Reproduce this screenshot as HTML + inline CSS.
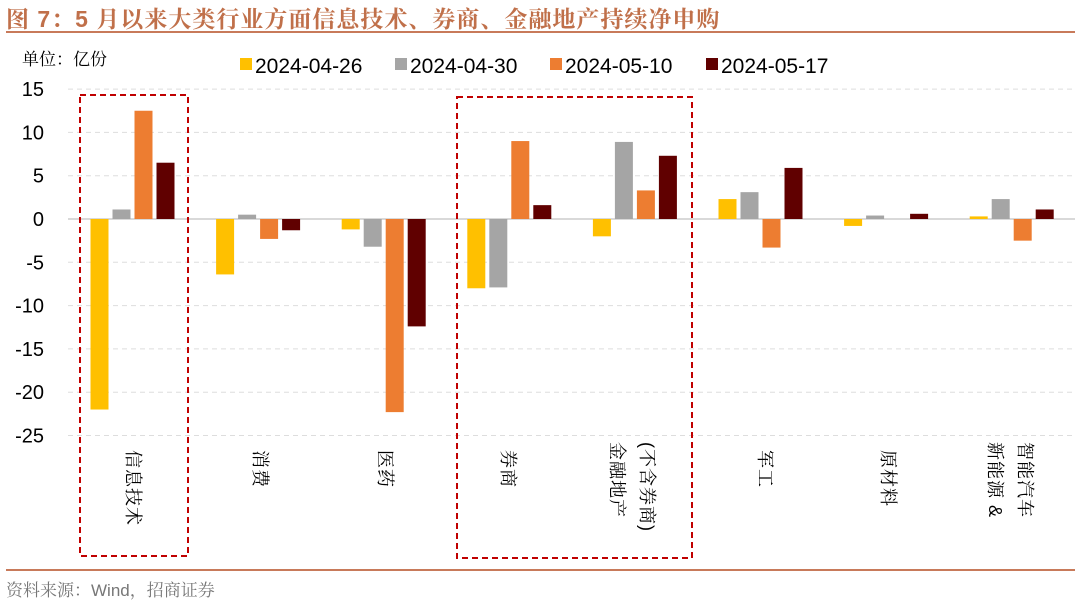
<!DOCTYPE html>
<html><head><meta charset="utf-8"><style>
body{margin:0;background:#fff;}
#wrap{position:relative;width:1080px;height:607px;overflow:hidden;font-family:"Liberation Sans","Noto Sans CJK SC",sans-serif;}
.t{position:absolute;white-space:nowrap;}
.cat{position:absolute;top:450px;writing-mode:vertical-lr;text-orientation:sideways;font-size:18px;letter-spacing:1px;color:#000;line-height:30px;white-space:nowrap;font-family:"Liberation Sans","Noto Serif CJK SC",serif;}
</style></head><body>
<div id="wrap">
<div class="t" style="left:6px;top:1px;font-size:23px;letter-spacing:1px;color:#c0704a;font-weight:bold;font-family:'Liberation Sans','Noto Serif CJK SC',serif;">图 7：5 月以来大类行业方面信息技术、券商、金融地产持续净申购</div>
<div class="t" style="left:22px;top:45px;font-size:17px;font-family:'Liberation Sans','Noto Serif CJK SC',serif;">单位：亿份</div>
<div class="t" style="left:6px;top:576px;font-size:17px;color:#777;font-family:'Liberation Sans','Noto Serif CJK SC',serif;">资料来源：Wind，招商证券</div>
<svg id="svg" width="1080" height="607" style="position:absolute;left:0;top:0">
<line x1="6" y1="32" x2="1075" y2="32" stroke="#c87a5a" stroke-width="2"/>
<line x1="6" y1="570" x2="1075" y2="570" stroke="#c87a5a" stroke-width="2"/>
<g id="grid"></g><g id="bars"></g><g id="legend"></g>
<rect x="80" y="95" width="108" height="461" fill="none" stroke="#c00000" stroke-width="2" stroke-dasharray="6,4"/>
<rect x="457" y="97" width="235" height="461" fill="none" stroke="#c00000" stroke-width="2" stroke-dasharray="6,4"/>
</svg>
<div class="cat" style="left:118px">信息技术</div>
<div class="cat" style="left:245px">消费</div>
<div class="cat" style="left:370px">医药</div>
<div class="cat" style="left:493px">券商</div>
<div class="cat" style="left:602px;top:442px">金融地产<br>(不含券商)</div>
<div class="cat" style="left:750px">军工</div>
<div class="cat" style="left:873px">原材料</div>
<div class="cat" style="left:980px;top:442px">新能源 &amp;<br>智能汽车</div>
</div>
<script>
const categories=["信息技术","消费","医药","券商","金融地产","军工","原材料","新能源&智能汽车"];
const seriesNames=["2024-04-26","2024-04-30","2024-05-10","2024-05-17"];
const s0426=[-22,-6.4,-1.2,-8,-2,2.3,-0.8,0.3];
const s0430=[1.1,0.5,-3.2,-7.9,8.9,3.1,0.4,2.3];
const s0510=[12.5,-2.3,-22.3,9,3.3,-3.3,0,-2.5];
const s0517=[6.5,-1.3,-12.4,1.6,7.3,5.9,0.6,1.1];
const yTicks=[15,10,5,0,-5,-10,-15,-20,-25];
const series=[s0426,s0430,s0510,s0517];
const colors=["#ffc000","#a5a5a5","#ed7d31","#600000"];
const NS="http://www.w3.org/2000/svg";
const y=v=>219-v*8.66;
const xc=i=>132.5+i*125.6;
function mk(t,a,p){const e=document.createElementNS(NS,t);for(const k in a)e.setAttribute(k,a[k]);p.appendChild(e);return e;}
const grid=document.getElementById('grid'),bars=document.getElementById('bars'),leg=document.getElementById('legend');
yTicks.forEach(v=>{
  if(v!==0){const l=mk('line',{x1:68,x2:1075,y1:y(v),y2:y(v),stroke:'#ddd','stroke-dasharray':'5,4'},grid);
  
  }
  const t=mk('text',{x:44,y:y(v)+7,'text-anchor':'end','font-size':20,'font-family':'Liberation Sans'},grid);
  t.textContent=v;
  
  
});
const z=mk('line',{x1:68,x2:1075,y1:y(0),y2:y(0),stroke:'#d9d9d9','stroke-width':2},grid);


const offs=[-42,-20,2,24];
series.forEach((s,j)=>{s.forEach((v,i)=>{
  const r=mk('rect',{x:xc(i)+offs[j],y:Math.min(y(v),y(0)),width:18,height:Math.abs(y(v)-y(0)),fill:colors[j]},bars);
  
  
});});
const lx=[240,395,550,706];
seriesNames.forEach((n,j)=>{
  const g=mk('g',{},leg);
  
  
  mk('rect',{x:lx[j],y:58,width:12,height:12,fill:colors[j]},g);
  const t=mk('text',{x:lx[j]+15,y:73,'font-size':21,'font-family':'Liberation Sans'},g);
  t.textContent=n;
});
</script>
</body></html>
